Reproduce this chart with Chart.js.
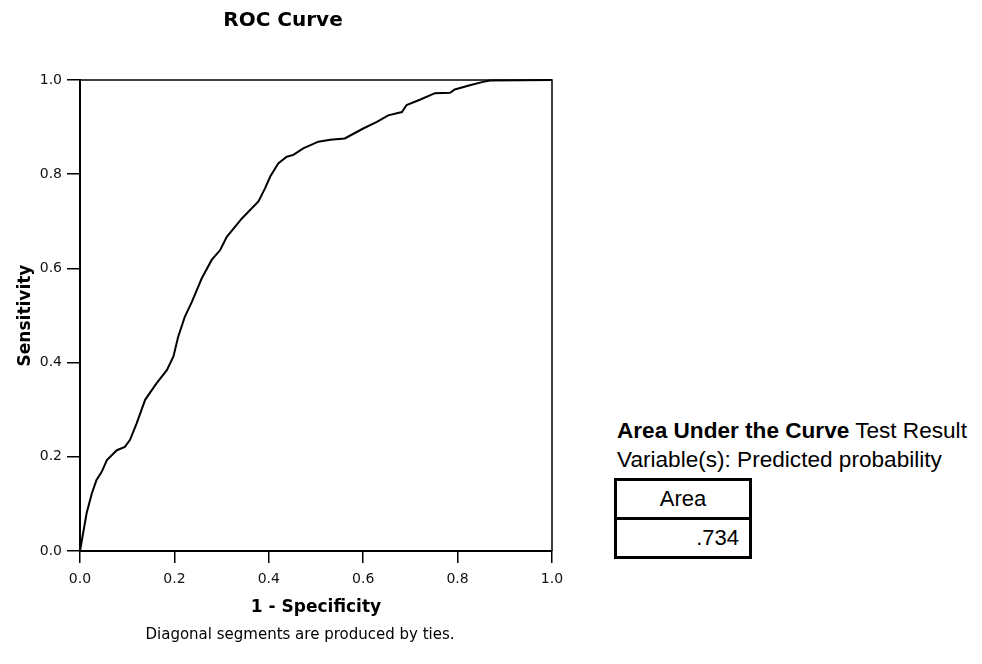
<!DOCTYPE html>
<html>
<head>
<meta charset="utf-8">
<script src="https://cdn.jsdelivr.net/npm/chart.js@4.4.1/dist/chart.umd.min.js"></script>
<style>
  html, body { margin: 0; padding: 0; background: #fff; }
  body { width: 982px; height: 664px; position: relative; overflow: hidden; }
  #wrap { position: absolute; left: 0; top: 0; width: 566px; height: 664px; }
  .note { position: absolute; font-family: "DejaVu Sans", sans-serif; font-size: 15px; color: #000; }
  .auc { position: absolute; left: 617px; font-family: "Liberation Sans", Arial, sans-serif; font-size: 22.6px;
    line-height: 26px; color: #000; white-space: nowrap; }
  .auc-table { position: absolute; left: 614px; top: 478px; width: 132px; border: 3px solid #000;
    font-family: "Liberation Sans", Arial, sans-serif; font-size: 22px; }
  .auc-table div { height: 36px; line-height: 36px; }
  .auc-table .head { text-align: center; border-bottom: 3px solid #000; }
  .auc-table .val { text-align: right; padding-right: 10px; }
</style>
</head>
<body>
<div id="wrap"><canvas id="roc"></canvas></div>
<div class="note" style="left:0; width:600px; top:625px; text-align:center;">Diagonal segments are produced by ties.</div>
<div class="auc" style="top:418px;"><b>Area Under the Curve</b> Test Result</div>
<div class="auc" style="top:447px;">Variable(s): Predicted probability</div>
<div class="auc-table"><div class="head" id="aucHead"></div><div class="val" id="aucVal"></div></div>
<script>
// ROC curve: 1 - specificity vs sensitivity
const fpr = [0.000, 0.014, 0.025, 0.035, 0.046, 0.057, 0.078, 0.095, 0.106, 0.120,
  0.138, 0.162, 0.184, 0.198, 0.208, 0.222, 0.237, 0.258, 0.279, 0.297,
  0.311, 0.343, 0.378, 0.392, 0.403, 0.420, 0.438, 0.452, 0.473, 0.505,
  0.530, 0.561, 0.600, 0.629, 0.653, 0.682, 0.692, 0.720, 0.752, 0.784,
  0.794, 0.826, 0.854, 0.869, 1.000]
const tpr = [0.000, 0.080, 0.122, 0.151, 0.168, 0.193, 0.214, 0.221, 0.236, 0.271,
  0.321, 0.356, 0.384, 0.413, 0.455, 0.497, 0.529, 0.579, 0.618, 0.639,
  0.667, 0.706, 0.742, 0.770, 0.795, 0.823, 0.837, 0.841, 0.855, 0.869,
  0.873, 0.876, 0.897, 0.911, 0.925, 0.932, 0.947, 0.958, 0.972, 0.973,
  0.980, 0.989, 0.996, 0.999, 1.000]
const tickValues = [0, 0.2, 0.4, 0.6, 0.8, 1.0]
const aucLabel = 'Area'
const aucValue = '.734'

document.getElementById('aucHead').textContent = aucLabel
document.getElementById('aucVal').textContent = aucValue

const points = fpr.map((x, i) => ({ x, y: tpr[i] }))

// top and right edges of the plot frame
const frame = {
  id: 'frame',
  afterDraw(chart) {
    const { ctx, chartArea: a } = chart
    ctx.save()
    ctx.strokeStyle = '#000'
    ctx.lineWidth = 1.5
    ctx.beginPath()
    ctx.moveTo(a.left, a.top)
    ctx.lineTo(a.right, a.top)
    ctx.lineTo(a.right, a.bottom)
    ctx.stroke()
    ctx.restore()
  }
}

const tickFont = { family: 'DejaVu Sans', size: 14 }
const titleFont = { family: 'DejaVu Sans', size: 17, weight: 'bold' }

new Chart(document.getElementById('roc'), {
  type: 'scatter',
  data: {
    datasets: [{
      data: points, showLine: true, borderColor: '#000', borderWidth: 2,
      pointRadius: 0, tension: 0, clip: 4
    }]
  },
  options: {
    responsive: true, maintainAspectRatio: false, animation: false,
    layout: { padding: 0 },
    plugins: {
      legend: { display: false }, tooltip: { enabled: false },
      title: {
        display: true, text: 'ROC Curve', color: '#000',
        font: { family: 'DejaVu Sans', size: 20, weight: 'bold' },
        padding: { top: 9, bottom: 47 }
      }
    },
    scales: {
      x: {
        type: 'linear', min: 0, max: 1,
        afterBuildTicks: s => { s.ticks = tickValues.map(v => ({ value: v })) },
        afterFit: s => { s.height = 113; s.paddingRight = 14 },
        ticks: { color: '#111', font: tickFont, padding: 8, maxRotation: 0, callback: v => v.toFixed(1) },
        grid: { drawOnChartArea: false, drawTicks: true, tickLength: 12, color: '#000', lineWidth: 1.5 },
        border: { display: true, color: '#000', width: 2 },
        title: { display: true, text: '1 - Specificity', color: '#000', font: titleFont, padding: { top: 0, bottom: 46 } }
      },
      y: {
        type: 'linear', min: 0, max: 1,
        afterBuildTicks: s => { s.ticks = tickValues.map(v => ({ value: v })) },
        afterFit: s => { s.width = 80 },
        ticks: { color: '#111', font: tickFont, padding: 5, callback: v => v.toFixed(1) },
        grid: { drawOnChartArea: false, drawTicks: true, tickLength: 13, color: '#000', lineWidth: 1.5 },
        border: { display: true, color: '#000', width: 2 },
        title: { display: true, text: 'Sensitivity', color: '#000', font: titleFont, padding: { top: 15, bottom: 0 } }
      }
    }
  },
  plugins: [frame]
})
</script>
</body>
</html>
